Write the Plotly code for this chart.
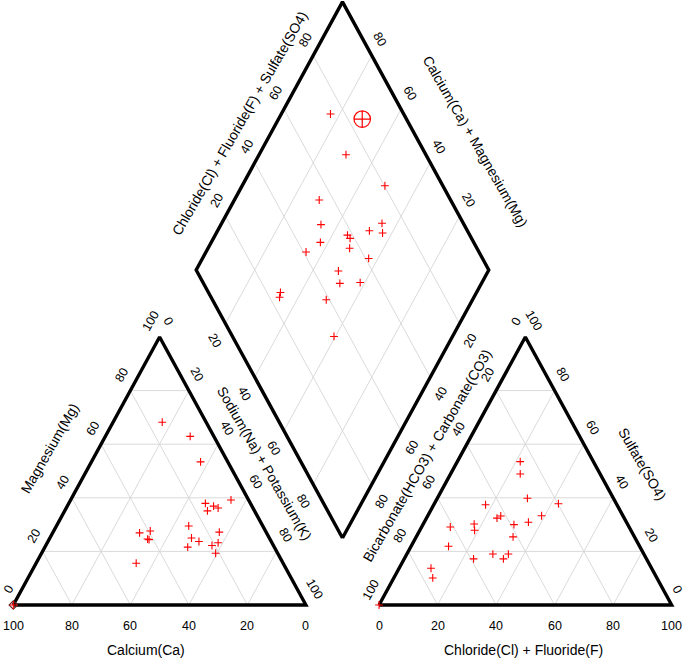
import numpy as np
import plotly.graph_objects as go

# ── sample composition, percent of meq ─────────────────────────────────────
# cations
ca   = [15.0, 43.4, 16.1, 8.1, 41.4, 6.0, 16.0, 11.9, 25.3, 15.4, 9.3,
        26.6, 50.2, 21.0, 29.6, 24.7, 18.4, 39.4, 41.8, 13.1, 21.2]
mg   = [68.2, 26.9, 35.1, 62.9, 24.4, 39.2, 27.2, 36.2, 29.5, 37.9, 53.4,
        25.0, 15.6, 22.2, 21.6, 23.7, 23.2, 27.6, 24.6, 36.9, 19.3]
na_k = [16.8, 29.7, 48.8, 29.0, 34.2, 54.8, 56.8, 51.9, 45.2, 46.7, 37.3,
        48.4, 34.2, 56.8, 48.8, 51.6, 58.4, 33.0, 33.6, 50.0, 59.5]
# anions
hco3 = [25.0, 27.3, 19.8, 44.9, 48.9, 27.8, 29.4, 33.5, 41.8, 41.5, 52.4,
        43.5, 59.1, 38.9, 51.6, 53.4, 46.3, 75.4, 76.6, 61.1, 65.3]
cl_f = [21.5, 23.8, 42.4, 17.7, 33.9, 38.9, 30.8, 35.6, 25.0, 33.1, 17.4,
        24.1, 23.7, 31.1, 29.4, 18.7, 34.7, 10.9, 13.3, 9.8, 12.8]
so4  = [53.5, 48.9, 37.8, 37.4, 17.2, 33.3, 39.8, 30.9, 33.2, 25.4, 30.2,
        32.4, 17.2, 30.0, 19.0, 27.9, 19.0, 13.7, 10.1, 29.1, 21.9]

# reference sample sitting in the corners of both triangles
ref_ca, ref_mg, ref_na = [100.0], [0.0], [0.0]
ref_hco3, ref_cl, ref_so4 = [100.0], [0.0], [0.0]

# circled point in the diamond (Na+K, HCO3)
mean_na, mean_hco3 = [28.6], [15.1]

TICKS = [0, 20, 40, 60, 80, 100]
INNER = [20, 40, 60, 80]

# ── geometry ────────────────────────────────────────────────────────────────
H = np.sqrt(3) / 2
GAP = 25
PX_X, PX_Y = 2.926, 3.095  # screen pixels per plot unit
W, HT = 685, 658

FONT = "Liberation Sans, Arial, sans-serif"
RED = "#ff0000"
GRID = "#d6d6d6"

# screen px 13.3 -> x = 0, screen px 605 -> y = 0
X0 = -13.3 / PX_X
Y1 = 605 / PX_Y
X_MIN, X_MAX = X0 + 8 / PX_X, X0 + (W - 8) / PX_X  # keep edge labels on the page


def cation_xy(c, m, n):
    c, m, n = np.asarray(c, float), np.asarray(m, float), np.asarray(n, float)
    return n + m / 2, m * H


def anion_xy(h, cl, s):
    h, cl, s = np.asarray(h, float), np.asarray(cl, float), np.asarray(s, float)
    return 100 + GAP + cl + s / 2, s * H


def diamond_xy(n, h):
    n, h = np.asarray(n, float), np.asarray(h, float)
    return (n + 200 + GAP - h) / 2, (200 + GAP - h - n) / 2 * np.sqrt(3)


def nudge(x, y, dx, dy):
    return float(x) + dx / PX_X, float(y) - dy / PX_Y


def segs(pairs):
    xs, ys = [], []
    for (x0, y0), (x1, y1) in pairs:
        xs += [float(x0), float(x1), None]
        ys += [float(y0), float(y1), None]
    return xs, ys


fig = go.Figure()

# ── grid lines ──────────────────────────────────────────────────────────────
pairs = []
for k in INNER:
    pairs.append((cation_xy(100 - k, k, 0), cation_xy(0, k, 100 - k)))
    pairs.append((cation_xy(k, 0, 100 - k), cation_xy(k, 100 - k, 0)))
    pairs.append((cation_xy(100 - k, 0, k), cation_xy(0, 100 - k, k)))
    pairs.append((anion_xy(100 - k, 0, k), anion_xy(0, 100 - k, k)))
    pairs.append((anion_xy(k, 100 - k, 0), anion_xy(k, 0, 100 - k)))
    pairs.append((anion_xy(100 - k, k, 0), anion_xy(0, k, 100 - k)))
    pairs.append((diamond_xy(k, 100), diamond_xy(k, 0)))
    pairs.append((diamond_xy(0, k), diamond_xy(100, k)))
gx, gy = segs(pairs)
fig.add_trace(go.Scatter(x=gx, y=gy, mode="lines", hoverinfo="skip",
                         line=dict(color=GRID, width=0.9)))

# ── outlines ────────────────────────────────────────────────────────────────
outlines = [
    [cation_xy(100, 0, 0), cation_xy(0, 0, 100), cation_xy(0, 100, 0), cation_xy(100, 0, 0)],
    [anion_xy(100, 0, 0), anion_xy(0, 100, 0), anion_xy(0, 0, 100), anion_xy(100, 0, 0)],
    [diamond_xy(100, 100), diamond_xy(100, 0), diamond_xy(0, 0), diamond_xy(0, 100), diamond_xy(100, 100)],
]
for poly in outlines:
    fig.add_trace(go.Scatter(
        x=[float(p[0]) for p in poly], y=[float(p[1]) for p in poly],
        mode="lines", hoverinfo="skip", cliponaxis=False,
        line=dict(color="black", width=3.4),
    ))

# ── points ──────────────────────────────────────────────────────────────────
cross = dict(symbol="cross-thin-open", size=5.6, color=RED,
             line=dict(color=RED, width=1.1))

rx, ry = cation_xy(ref_ca, ref_mg, ref_na)
fig.add_trace(go.Scatter(x=rx, y=ry, mode="markers", cliponaxis=False,
                         marker=dict(symbol="diamond-open", size=6.5, color="#5a2424",
                                     line=dict(color="#5a2424", width=1.1))))

for px, py in [cation_xy(ca, mg, na_k), anion_xy(hco3, cl_f, so4),
               diamond_xy(na_k, hco3),
               cation_xy(ref_ca, ref_mg, ref_na), anion_xy(ref_hco3, ref_cl, ref_so4)]:
    fig.add_trace(go.Scatter(x=px, y=py, mode="markers", cliponaxis=False,
                             marker=cross))

mx, my = diamond_xy(mean_na, mean_hco3)
fig.add_trace(go.Scatter(x=mx, y=my, mode="markers", cliponaxis=False,
                         marker=dict(symbol="circle-cross-open", size=16.5, color=RED,
                                     line=dict(color=RED, width=1.2))))

# ── labels ──────────────────────────────────────────────────────────────────
ann = []


def label(x, y, text, angle=0, size=12.5):
    if angle:
        x = min(max(x, X_MIN), X_MAX)
    ann.append(dict(x=x, y=y, text=text, textangle=angle, showarrow=False,
                    xanchor="center", yanchor="middle",
                    font=dict(family=FONT, size=size, color="black")))


LEFT_OFF, RIGHT_OFF, BOTTOM_OFF = (-8.5, -15.5), (8.6, -16), (0, 21)
for t in TICKS:
    # cation triangle
    label(*nudge(*cation_xy(t, 0, 100 - t), *BOTTOM_OFF), str(t))
    label(*nudge(*cation_xy(100 - t, t, 0), *LEFT_OFF), str(t), -60)
    label(*nudge(*cation_xy(0, 100 - t, t), *RIGHT_OFF), str(t), 60)
    # anion triangle
    label(*nudge(*anion_xy(100 - t, t, 0), *BOTTOM_OFF), str(t))
    label(*nudge(*anion_xy(t, 0, 100 - t), *LEFT_OFF), str(t), -60)
    label(*nudge(*anion_xy(0, 100 - t, t), *RIGHT_OFF), str(t), 60)

for t in INNER:
    label(*nudge(*diamond_xy(0, 100 - t), -8, -16), str(t), -60)
    label(*nudge(*diamond_xy(100 - t, 0), 8.7, -16), str(t), 60)
    label(*nudge(*diamond_xy(t, 100), -10.3, 17), str(t), 60)
    label(*nudge(*diamond_xy(100, t), 10.5, 17), str(t), -60)

# axis titles (positions in plot units)
label(45.4, -14.5, "Calcium(Ca)", 0, 14)
label(174.5, -14.5, "Chloride(Cl) + Fluoride(F)", 0, 14)
label(12.5, 50.7, "Magnesium(Mg)", -60, 14)
label(86.0, 45.6, "Sodium(Na) + Potassium(K)", 60, 14)
label(215.0, 45.6, "Sulfate(SO4)", 60, 14)
label(141.3, 48.2, "Bicarbonate(HCO3) + Carbonate(CO3)", -60, 14)
label(77.5, 155.6, "Chloride(Cl) + Fluoride(F) + Sulfate(SO4)", -60, 14)
label(158.1, 149.7, "Calcium(Ca) + Magnesium(Mg)", 60, 14)

fig.update_layout(
    width=W, height=HT,
    margin=dict(l=0, r=0, t=0, b=0),
    paper_bgcolor="white", plot_bgcolor="white",
    showlegend=False,
    annotations=ann,
    xaxis=dict(visible=False, range=[X0, X0 + W / PX_X], fixedrange=True),
    yaxis=dict(visible=False, range=[Y1 - HT / PX_Y, Y1], fixedrange=True),
)

# drop the page's default body margin so the figure fills the window
fig.write_html("out.html", config={"displayModeBar": False},
               post_script="document.body.style.margin='0';document.body.style.overflow='hidden';")
